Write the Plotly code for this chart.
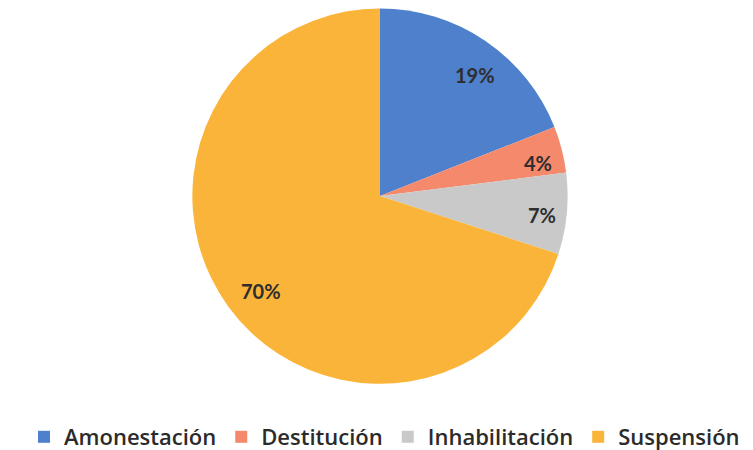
import math
import plotly.graph_objects as go

categories = ["Amonestación", "Destitución", "Inhabilitación", "Suspensión"]
values = [19, 4, 7, 70]
colors = ["#4f80cc", "#f5896c", "#c9c9c9", "#fbb43a"]

W, H = 753, 450
CX, CY, R = 379, 197, 188  # pie centre/radius in px (style)
LABEL_R = 0.83

fig = go.Figure(go.Pie(
    labels=categories,
    values=values,
    sort=False,
    direction="clockwise",
    rotation=0,
    marker=dict(colors=colors, line=dict(width=0)),
    textinfo="none",
    domain=dict(x=[0.2390, 0.7490], y=[0.148, 0.9990]),
    hoverinfo="label+percent",
))

total = sum(values)
cum = 0
for v in values:
    mid = (cum + v / 2) / total * 2 * math.pi
    cum += v
    px = CX + LABEL_R * R * math.sin(mid)
    py = CY - LABEL_R * R * math.cos(mid)
    fig.add_annotation(
        x=px / W, y=1 - py / H, xref="paper", yref="paper",
        text=f"{v}%", showarrow=False,
        font=dict(family="Lato", size=20, color="#2e2e2e", weight="bold"),
        xanchor="center", yanchor="middle",
    )

fig.update_layout(
    width=W, height=H,
    margin=dict(l=0, r=0, t=0, b=0),
    paper_bgcolor="white",
    plot_bgcolor="white",
    showlegend=True,
    legend=dict(
        orientation="h",
        x=0.5, xanchor="center",
        y=0.027, yanchor="middle",
        font=dict(family="Open Sans", size=22, color="#2b2b2b", weight=600),
        itemwidth=30,
        traceorder="normal",
    ),
)

fig.write_html("out.html")
